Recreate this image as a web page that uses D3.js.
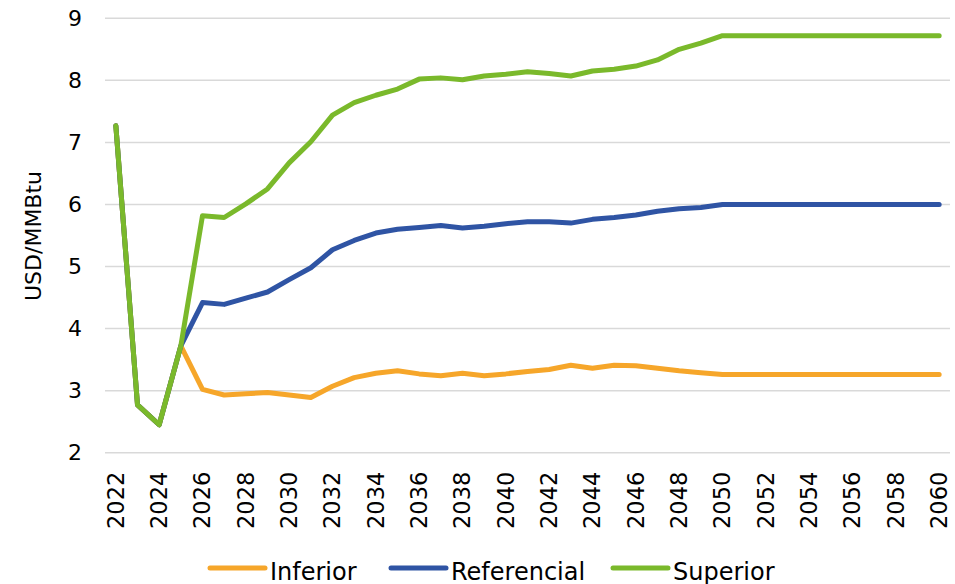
<!DOCTYPE html>
<html>
<head>
<meta charset="utf-8">
<script src="https://cdn.jsdelivr.net/npm/d3@7"></script>
<style>
	body { margin: 0; background: #fff; overflow: hidden; }
	text { font-family: "DejaVu Sans", Verdana, sans-serif; fill: #000; }
</style>
</head>
<body>
<svg id="chart"></svg>
<script>
// Chart Dimensions
const width = 955;
const height = 584;

const margin = {
	top: 18.3,
	right: 5,
	bottom: 131.3,
	left: 105,
};

const innerWidth = width - margin.left - margin.right;
const innerHeight = height - margin.top - margin.bottom;

// Data
const years = d3.range(2022, 2061);
const seriesNames = ["Inferior", "Referencial", "Superior"];
const seriesColors = ["#f6a62a", "#2f54a4", "#7ab92b"];

const inferior = [
	7.27, 2.77, 2.45, 3.72, 3.02, 2.93, 2.95, 2.97, 2.93, 2.89,
	3.07, 3.21, 3.28, 3.32, 3.27, 3.24, 3.28, 3.24, 3.27, 3.31,
	3.34, 3.41, 3.36, 3.41, 3.40, 3.36, 3.32, 3.29, 3.26, 3.26,
	3.26, 3.26, 3.26, 3.26, 3.26, 3.26, 3.26, 3.26, 3.26,
];
const referencial = [
	7.27, 2.77, 2.45, 3.72, 4.42, 4.39, 4.49, 4.59, 4.79, 4.98,
	5.27, 5.42, 5.54, 5.60, 5.63, 5.66, 5.62, 5.65, 5.69, 5.72,
	5.72, 5.70, 5.76, 5.79, 5.83, 5.89, 5.93, 5.95, 6.00, 6.00,
	6.00, 6.00, 6.00, 6.00, 6.00, 6.00, 6.00, 6.00, 6.00,
];
const superior = [
	7.27, 2.77, 2.45, 3.72, 5.82, 5.79, 6.01, 6.25, 6.67, 7.01,
	7.44, 7.64, 7.76, 7.86, 8.02, 8.04, 8.01, 8.07, 8.10, 8.14,
	8.11, 8.07, 8.15, 8.18, 8.23, 8.33, 8.50, 8.60, 8.72, 8.72,
	8.72, 8.72, 8.72, 8.72, 8.72, 8.72, 8.72, 8.72, 8.72,
];
const yTicks = [2, 3, 4, 5, 6, 7, 8, 9];
const xTicks = years.filter((y) => y % 2 === 0);

const allSeries = [inferior, referencial, superior];

const svg = d3.select("#chart")
	.attr("width", width)
	.attr("height", height);

const g = svg.append("g")
	.attr("transform", `translate(${margin.left}, ${margin.top})`);

// X AXIS
const xScale = d3.scaleBand()
	.domain(years)
	.range([0, innerWidth]);

// Y AXIS
const yScale = d3.scaleLinear()
	.domain([2, 9])
	.range([innerHeight, 0]);

// gridlines
g.append("g")
	.selectAll("line")
	.data(yTicks)
	.join("line")
	.attr("x1", 0)
	.attr("x2", innerWidth)
	.attr("y1", (d) => yScale(d))
	.attr("y2", (d) => yScale(d))
	.attr("stroke", "#d9d9d9")
	.attr("stroke-width", 1.5);

const yAxis = g.append("g")
	.call(d3.axisLeft(yScale).tickValues(yTicks).tickFormat(d3.format("d")).tickSize(0).tickPadding(23));
yAxis.select(".domain").remove();
yAxis.selectAll("text")
	.style("font-size", "22px");

const xAxis = g.append("g")
	.attr("transform", `translate(0, ${innerHeight})`)
	.call(d3.axisBottom(xScale).tickValues(xTicks).tickSize(0));
xAxis.select(".domain").remove();
xAxis.selectAll("text")
	.style("font-size", "22.5px")
	.attr("text-anchor", "end")
	.attr("dy", "0.35em")
	.attr("transform", "translate(0, 19) rotate(-90)")
	.attr("x", 0)
	.attr("y", 0);

// axis title
svg.append("text")
	.attr("transform", "translate(33, 236) rotate(-90)")
	.attr("text-anchor", "middle")
	.attr("dy", "0.35em")
	.style("font-size", "22px")
	.text("USD/MMBtu");

// lines
const line = d3.line()
	.x((d, i) => xScale(years[i]) + xScale.bandwidth() / 2)
	.y((d) => yScale(d));

// draw in order so green ends up on top
g.selectAll(".series")
	.data(allSeries)
	.join("path")
	.attr("class", "series")
	.attr("d", line)
	.attr("fill", "none")
	.attr("stroke", (d, i) => seriesColors[i])
	.attr("stroke-width", 5)
	.attr("stroke-linejoin", "round")
	.attr("stroke-linecap", "round");

// legend
const legendX = [210, 391, 613];
const legend = svg.append("g")
	.attr("transform", "translate(0, 568)");

const items = legend.selectAll("g")
	.data(seriesNames)
	.join("g")
	.attr("transform", (d, i) => `translate(${legendX[i]}, 0)`);

items.append("line")
	.attr("x1", 0)
	.attr("x2", 55)
	.attr("stroke", (d, i) => seriesColors[i])
	.attr("stroke-width", 5)
	.attr("stroke-linecap", "round");

items.append("text")
	.attr("x", 60)
	.attr("y", 12)
	.style("font-size", "24px")
	.text((d) => d);
</script>
</body>
</html>
